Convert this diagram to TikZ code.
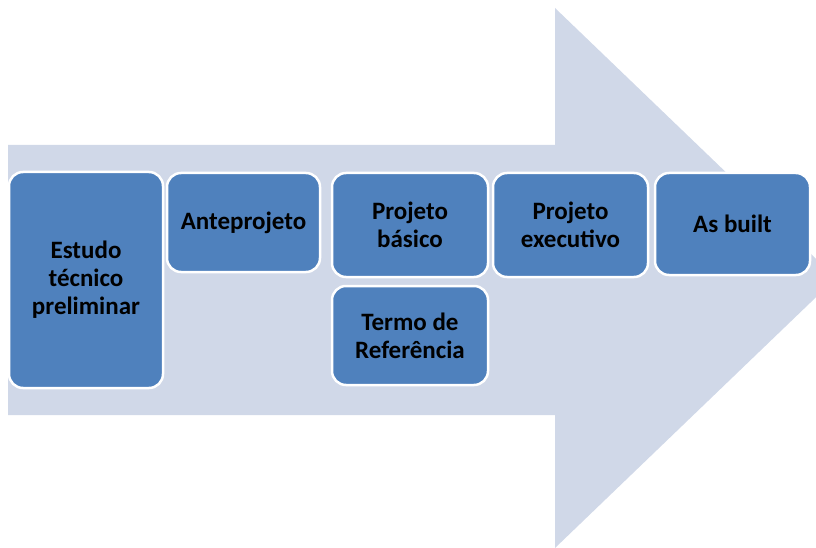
\documentclass[tikz,border=0pt]{standalone}
\usepackage{fontspec}
\setmainfont{Carlito}
\definecolor{arrowbg}{HTML}{D0D8E8}
\definecolor{boxblue}{HTML}{4F81BD}
\begin{document}
\begin{tikzpicture}[x=1pt,y=-1pt,
  stage/.style={draw=white, line width=2.5pt, fill=boxblue, rounded corners=14pt,
    inner sep=0pt, align=center, text=black,
    font=\fontsize{25}{28}\selectfont\bfseries}]
\useasboundingbox (0,0) rectangle (816,548);
% big arrow
\fill[arrowbg] (8,145) -- (555,145) -- (555,8) -- (836,278) -- (555,548) -- (555,415) -- (8,415) -- cycle;
% stages
\node[stage, minimum width=154pt, minimum height=216pt] (est) at (86,280) {Estudo\\técnico\\preliminar};
\node[stage, minimum width=153pt, minimum height=99pt] (ante) at (243.5,222.5) {Anteprojeto};
\node[stage, minimum width=156pt, minimum height=104pt] (basico) at (410,225) {Projeto\\básico};
\node[stage, minimum width=156pt, minimum height=99pt] (termo) at (410,335.5) {Termo de\\Referência};
\node[stage, minimum width=155pt, minimum height=104pt] (exec) at (570.5,225) {Projeto\\executivo};
\node[stage, minimum width=155pt, minimum height=102pt] (built) at (732.5,224) {As built};
\end{tikzpicture}
\end{document}
